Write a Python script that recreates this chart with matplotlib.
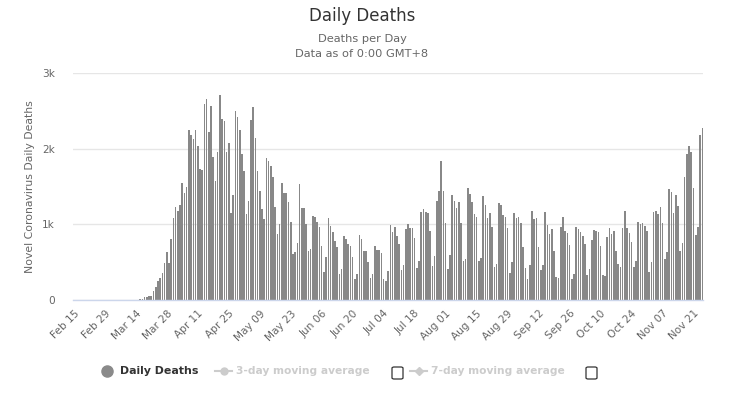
import numpy as np
import matplotlib
matplotlib.use('Agg')
import matplotlib.pyplot as plt
from matplotlib.patches import FancyBboxPatch
from matplotlib.lines import Line2D

# daily deaths, one value per day from Feb 15 to Nov 25
deaths = [0, 0, 0, 0, 0, 0, 0, 0, 0, 0, 0, 0, 0, 0,
          0, 0, 0, 0, 0, 0, 0, 0, 0, 0, 0, 0, 0, 0, 0, 0,
          10, 10, 40, 45, 50, 55, 118, 171, 250, 289,
          360, 487, 632, 491, 803, 1083, 1237, 1184, 1263, 1548,
          1412, 1500, 2250, 2184, 2127, 2250, 2039, 1732, 1724, 2592,
          2654, 2224, 2566, 1899, 1579, 1961, 2711, 2390, 2375, 1961,
          2079, 1158, 1395, 2500, 2421, 2250, 1930, 1702, 1132, 1316,
          2382, 2553, 2149, 1702, 1439, 1202, 1066, 1877, 1833, 1776,
          1623, 1232, 877, 1000, 1553, 1412, 1421, 1303, 1031, 614,
          632, 750, 1539, 1224, 1215, 1009, 654, 680, 1118, 1092,
          1026, 965, 715, 377, 566, 1079, 974, 899, 776, 697,
          342, 408, 846, 807, 741, 711, 570, 272, 342, 860,
          807, 649, 649, 504, 285, 342, 711, 658, 658, 623,
          272, 250, 382, 987, 899, 965, 846, 741, 395, 461,
          934, 1000, 952, 947, 820, 421, 513, 1171, 1211, 1171,
          1149, 912, 447, 579, 1316, 1447, 1833, 1439, 1018, 417,
          592, 1395, 1316, 1219, 1303, 1018, 518, 539, 1482, 1399,
          1294, 1140, 1096, 518, 557, 1382, 1263, 1088, 1158, 965,
          439, 474, 1281, 1263, 1123, 1096, 952, 364, 500, 1145,
          1083, 1096, 1018, 702, 421, 281, 461, 1184, 1075, 1079,
          702, 395, 461, 1171, 987, 877, 934, 649, 307, 289,
          965, 1092, 908, 882, 728, 276, 342, 965, 934, 895,
          842, 741, 329, 408, 789, 930, 910, 899, 711, 329,
          316, 833, 947, 868, 908, 654, 474, 439, 956, 1184,
          947, 886, 763, 434, 513, 1026, 1004, 1013, 978, 912,
          377, 500, 1171, 1184, 1136, 1228, 1018, 539, 636, 1465,
          1434, 1158, 1395, 1250, 654, 754, 1632, 1934, 2039, 1965,
          1487, 864, 965, 2184, 2281]

# labels shown every 14 days
tick_labels = ['Feb 15', 'Feb 29', 'Mar 14', 'Mar 28', 'Apr 11', 'Apr 25',
               'May 09', 'May 23', 'Jun 06', 'Jun 20', 'Jul 04', 'Jul 18',
               'Aug 01', 'Aug 15', 'Aug 29', 'Sep 12', 'Sep 26', 'Oct 10',
               'Oct 24', 'Nov 07', 'Nov 21']
y_ticks = [0, 1000, 2000, 3000]
y_tick_labels = ['0', '1k', '2k', '3k']

plt.rcParams['font.family'] = ['DejaVu Sans']

fig = plt.figure(figsize=(7.36, 3.98), dpi=100)
ax = fig.add_axes([0.0988, 0.2462, 0.857, 0.5696])

x = np.arange(len(deaths))
ax.bar(x, deaths, width=0.72, color='#888888', linewidth=0)

ax.set_xlim(-0.5, len(deaths) - 0.5)
ax.set_ylim(0, 3000)
ax.set_yticks(y_ticks)
ax.set_yticklabels(y_tick_labels)
ax.set_xticks(x[::14])
ax.set_xticklabels(tick_labels, rotation=45, ha='right', rotation_mode='anchor')
ax.tick_params(axis='x', length=0, pad=6, labelsize=7.6, colors='#666666')
ax.tick_params(axis='y', length=0, pad=13, labelsize=7.6, colors='#666666')
ax.grid(axis='y', color='#e6e6e6', linewidth=1)
ax.set_axisbelow(True)
for s in ['top', 'right', 'left']:
    ax.spines[s].set_visible(False)
ax.spines['bottom'].set_color('#ccd6eb')
ax.spines['bottom'].set_linewidth(1)

ax.set_ylabel('Novel Coronavirus Daily Deaths', fontsize=7.8, color='#666666', labelpad=5)

# titles
fig.text(362 / 736, 1 - 16 / 398, 'Daily Deaths', ha='center', va='center',
         fontsize=12, color='#333333')
fig.text(362 / 736, 1 - 39 / 398, 'Deaths per Day', ha='center', va='center',
         fontsize=8.2, color='#666666')
fig.text(362 / 736, 1 - 54 / 398, 'Data as of 0:00 GMT+8', ha='center', va='center',
         fontsize=8.2, color='#666666')

# legend drawn by hand
ly = 1 - 371 / 398
fig.add_artist(Line2D([107 / 736], [ly], marker='o', markersize=8,
                      color='#8a8a8a', linestyle='none'))
fig.text(120 / 736, ly, 'Daily Deaths', ha='left', va='center', fontsize=7.9,
         fontweight='bold', color='#333333')

fig.add_artist(Line2D([215 / 736, 232 / 736], [ly, ly], color='#cccccc', lw=1.5))
fig.add_artist(Line2D([223.5 / 736], [ly], marker='o', markersize=5,
                      color='#cccccc', linestyle='none'))
fig.text(236 / 736, ly, '3-day moving average', ha='left', va='center', fontsize=7.7,
         fontweight='bold', color='#cccccc')

fig.add_artist(Line2D([410 / 736, 427 / 736], [ly, ly], color='#cccccc', lw=1.5))
fig.add_artist(Line2D([418.5 / 736], [ly], marker='D', markersize=4.5,
                      color='#cccccc', linestyle='none'))
fig.text(431 / 736, ly, '7-day moving average', ha='left', va='center', fontsize=7.7,
         fontweight='bold', color='#cccccc')

for bx in [392, 586]:
    box = FancyBboxPatch((bx / 736, 1 - 379 / 398), 11 / 736, 12 / 398,
                         boxstyle='round,pad=0,rounding_size=0.003',
                         transform=fig.transFigure, facecolor='white',
                         edgecolor='#333333', linewidth=0.9)
    fig.add_artist(box)

fig.savefig('out.png', dpi=100)
